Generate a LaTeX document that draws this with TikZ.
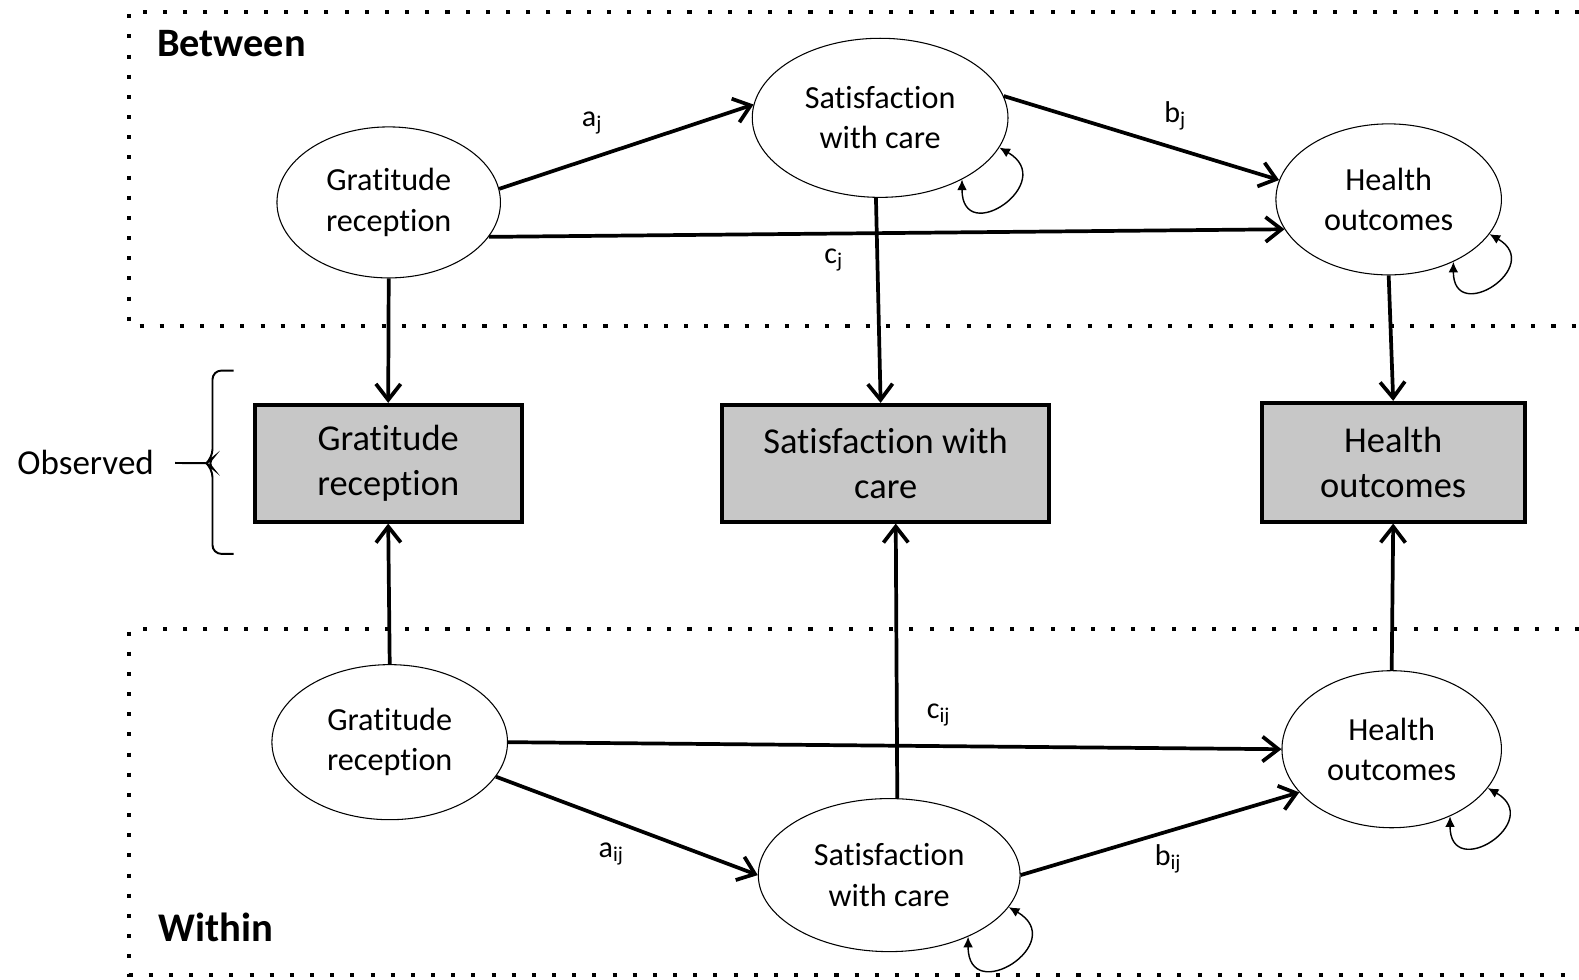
\documentclass[tikz,border=0pt]{standalone}
\usepackage{fontspec}
\setmainfont{Carlito}[Ligatures=NoCommon]
\usetikzlibrary{shapes.geometric,arrows.meta}

\tikzset{
  latent/.style={draw, ellipse, line width=0.6pt, inner sep=0pt, align=center, font=\fontsize{18.2}{22.7}\selectfont},
  manifest/.style={draw, rectangle, line width=2.2pt, fill=black!22, inner sep=0pt, align=center, font=\fontsize{20.6}{25.5}\selectfont},
  pth/.style={line width=2.1pt, -{Straight Barb[length=9pt,width=14pt]}},
  selfloop/.style={line width=0.8pt, {Latex[length=6pt,width=5.5pt]}-{Latex[length=6pt,width=5.5pt]}},
  lbl/.style={font=\fontsize{17}{20}\selectfont},
  level/.style={line width=2.3pt, dash pattern=on 2.3pt off 9.1pt},
}

\begin{document}
\begin{tikzpicture}[x=0.02cm, y=-0.02cm]
    \useasboundingbox (0,0) rectangle (1568,973);

    % levels
    \draw[level] (1568,12) -- (128,12) -- (128,324) -- (1568,324);
    \draw[level] (1568,625) -- (128,625) -- (128,968) -- (1568,968);
    \node[font=\fontsize{22.8}{26}\selectfont\bfseries] (between) at (230,43) {Between};
    \node[font=\fontsize{23}{26}\selectfont\bfseries] (within) at (214,921) {Within};

    % between part
    \node[latent, minimum width=4.44cm, minimum height=3cm] (gb) at (386,201) {Gratitude\\reception};
    \node[latent, minimum width=5.08cm, minimum height=3.16cm] (sb) at (874,117) {Satisfaction\\with care};
    \node[latent, minimum width=4.48cm, minimum height=3cm] (hb) at (1379,198) {Health\\outcomes};

    % observed
    \node[manifest, minimum width=5.3cm, minimum height=2.32cm] (go) at (385.5,460) {Gratitude\\reception};
    \node[manifest, minimum width=6.5cm, minimum height=2.32cm] (so) at (879.5,460) {Satisfaction with\\care};
    \node[manifest, minimum width=5.22cm, minimum height=2.36cm] (ho) at (1383.5,459) {Health\\outcomes};

    % within part
    \node[latent, minimum width=4.68cm, minimum height=3.08cm] (gw) at (387,737) {Gratitude\\reception};
    \node[latent, minimum width=5.2cm, minimum height=3.04cm] (sw) at (883,869) {Satisfaction\\with care};
    \node[latent, minimum width=4.36cm, minimum height=3.12cm] (hw) at (1382,744) {Health\\outcomes};

    \node[font=\fontsize{19.8}{24}\selectfont] (obs) at (85,459) {Observed};
    \coordinate (tip) at (205,460);
    \draw[line width=1.1pt, rounded corners=5pt] (232,368) -- (211,368) -- (211,455) -- (tip) -- (211,465) -- (211,550) -- (232,550);
    \draw[line width=1.1pt, shorten <=0.3cm] (obs) -- (tip);

    \draw[pth] (gb.7) -- (sb.174);
    \draw[pth] (sb.10) -- (hb.170);
    \draw[pth] (gb.-19) -- (hb.196);
    \draw[pth] (gb.south) -- (go.north);
    \draw[pth] (sb.-93) -- ([xshift=-0.1cm]so.north);
    \draw[pth] (hb.south) -- (ho.north);

    \draw[pth] (gw.north) -- (go.south);
    \draw[pth] (sw.84) -- ([xshift=0.2cm]so.south);
    \draw[pth] (hw.north) -- (ho.south);
    \draw[pth] (gw.east) -- (hw.west);
    \draw[pth] (gw.-18) -- (sw.west);
    \draw[pth] (sw.east) -- (hw.205);

    \node[lbl] (aj) at (588,122) {a\textsubscript{j}};
    \node[lbl] (bj) at (1167,115) {b\textsubscript{j}};
    \node[lbl] (cj) at (828,258) {c\textsubscript{j}};
    \node[lbl] (cij) at (932,710) {c\textsubscript{ij}};
    \node[lbl] (aij) at (607,848) {a\textsubscript{ij}};
    \node[lbl] (bij) at (1160,853) {b\textsubscript{ij}};

    % residual variances
    \draw[selfloop] (sb.-37) to[out=-90, in=-30, looseness=3.6] (sb.-14);
    \draw[selfloop] (hb.-44) to[out=-90, in=-30, looseness=3.6] (hb.-19);
    \draw[selfloop] (sw.-38) to[out=-90, in=-30, looseness=3.6] (sw.-15);
    \draw[selfloop] (hw.-49) to[out=-90, in=-30, looseness=3.6] (hw.-22);
\end{tikzpicture}
\end{document}
